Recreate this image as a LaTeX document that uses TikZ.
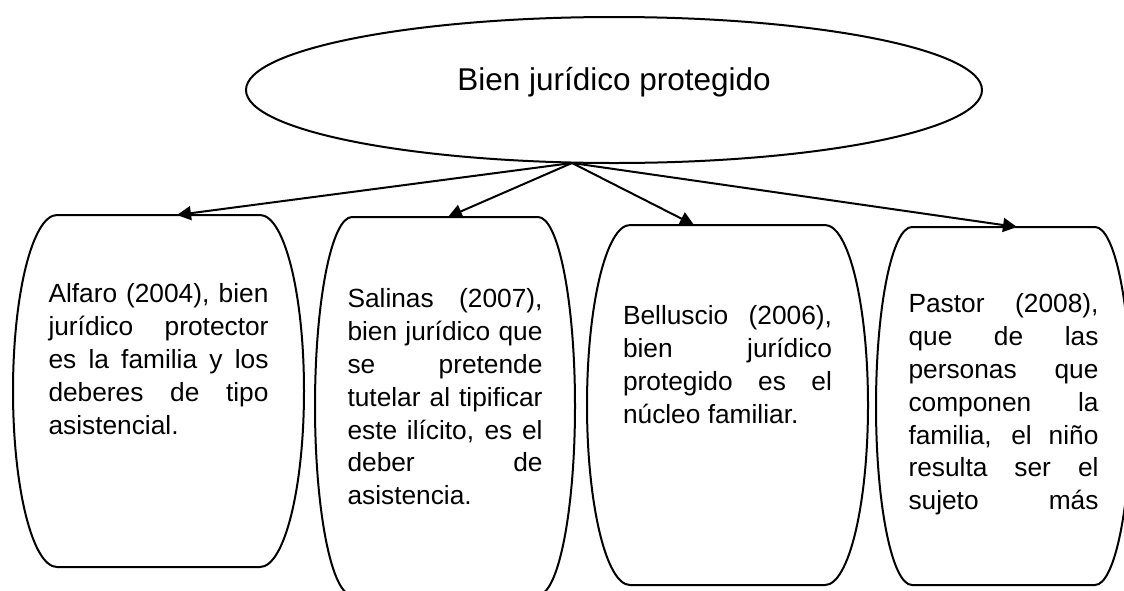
\documentclass[tikz,border=0pt]{standalone}
\usepackage{fontspec}
\setmainfont{Liberation Sans}
\usepackage{tikz}
\usetikzlibrary{shapes.geometric}
\usetikzlibrary{arrows.meta}

\tolerance=10000
\hbadness=10000
\hyphenpenalty=10000

% text of a box: height, width, gap above the first line, text
\newcommand{\texto}[4]{\parbox[t][#1][t]{#2}{\vspace*{#3}\strut #4}}

\begin{document}
\begin{tikzpicture}[x=1pt, y=-1pt]

                \def\lw{2pt}

                % Styles of the oval, the boxes and the arrows
                \tikzset{
                    oval/.style={ellipse, draw, line width=\lw, inner sep=0pt,
                        outer sep=0pt, minimum width=736pt, minimum height=146pt,
                        font=\fontsize{31.5}{38}\selectfont,
                        text height=20pt, text depth=20pt},
                    caja/.style={rectangle, inner sep=0pt, outer sep=0pt,
                        anchor=north, font=\fontsize{26.3}{32.8}\selectfont},
                    borde/.style={line width=\lw},
                    flecha/.style={line width=\lw,
                        -{Triangle[length=14pt, width=14pt]}}
                }

                \useasboundingbox (0,0) rectangle (1124,590);

                \node (bien) [oval] at (614,90) {Bien jurídico protegido};

                % Boxes, placed at the middle of their top side
                \node (alfaro) [caja, minimum width=291pt] at (158.5,215)
                {\texto{352pt}{220pt}{65pt}{Alfaro (2004), bien\linebreak
                jurídico protector\linebreak es la familia y los\linebreak
                deberes de tipo\linebreak asistencial.}};
                \node (salinas) [caja, minimum width=260pt] at (445,217)
                {\texto{378pt}{195pt}{68pt}{Salinas (2007),\linebreak
                bien jurídico que\linebreak se pretende\linebreak
                tutelar al tipificar\linebreak este ilícito, es el\linebreak
                deber de\linebreak asistencia.}};
                \node (belluscio) [caja, minimum width=281pt] at (727.5,225)
                {\texto{360pt}{209pt}{77pt}{Belluscio (2006),\linebreak
                bien jurídico\linebreak protegido es el\linebreak
                núcleo familiar.}};
                \node (pastor) [caja, minimum width=255pt] at (1003.5,227)
                {\texto{358pt}{190pt}{63pt}{\parfillskip=0pt Pastor (2008),\linebreak
                que de las\linebreak personas que\linebreak
                componen la\linebreak familia, el niño\linebreak
                resulta ser el\linebreak sujeto más}};

                % Outline of each box: flat top and bottom, bulging sides
                \foreach \b/\r/\h in {alfaro/44/176, salinas/37/189,
                    belluscio/43/180, pastor/36/179}
                {
                    \draw[borde] ([xshift=\r pt]\b.north west)
                        -- ([xshift=-\r pt]\b.north east)
                        arc[start angle=90, end angle=-90,
                            x radius=\r pt, y radius=\h pt]
                        -- ([xshift=\r pt]\b.south west)
                        arc[start angle=270, end angle=90,
                            x radius=\r pt, y radius=\h pt]
                        -- cycle;
                }

                \begin{scope}[flecha]
                    \draw ([xshift=-42pt]bien.south) -- ([xshift=18.5pt]alfaro.north);
                    \draw ([xshift=-42pt]bien.south) -- ([xshift=3pt]salinas.north);
                    \draw ([xshift=-42pt]bien.south) -- ([xshift=-33.5pt]belluscio.north);
                    \draw ([xshift=-42pt]bien.south) -- ([xshift=13.5pt]pastor.north);
                \end{scope}

\end{tikzpicture}
\end{document}
